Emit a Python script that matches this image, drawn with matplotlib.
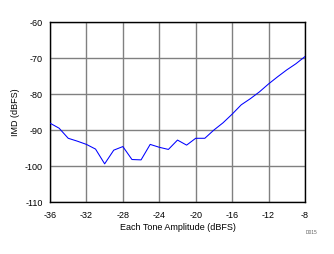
import numpy as np
import matplotlib
matplotlib.use("Agg")
import matplotlib.pyplot as plt

plt.rcParams['font.family'] = ['Liberation Sans', 'DejaVu Sans']
plt.rcParams['axes.unicode_minus'] = False

# Each tone amplitude (dBFS) and measured IMD (dBFS)
tone_amp = list(range(-36, -7))
imd = [-88.1, -89.5, -92.3, -93.1, -94.0, -95.3, -99.4, -95.6, -94.6, -98.2,
       -98.3, -94.0, -94.8, -95.4, -92.8, -94.2, -92.3, -92.3, -90.0, -88.0,
       -85.6, -83.0, -81.3, -79.4, -77.2, -75.2, -73.3, -71.6, -69.6]

x_ticks = [-36, -32, -28, -24, -20, -16, -12, -8]
y_ticks = [-110, -100, -90, -80, -70, -60]

fig = plt.figure(figsize=(3.34, 2.54), dpi=100)
ax = fig.add_axes([50/334, 1 - 202/254, 255/334, 180/254])

ax.plot(tone_amp, imd, color='#0000ff', linewidth=0.75, zorder=3)

ax.set_xlim(-36, -8)
ax.set_ylim(-110, -60)
ax.set_xticks(x_ticks)
ax.set_yticks(y_ticks)
ax.grid(True, color='#808080', linewidth=1.0)
ax.set_axisbelow(True)
ax.tick_params(length=0, labelsize=6.5, pad=5)
ax.tick_params(axis='x', pad=6.5)
for s in ax.spines.values():
    s.set_linewidth(1.0)
    s.set_color('black')

ax.set_xlabel("Each Tone Amplitude (dBFS)", fontsize=6.5, labelpad=2)
ax.set_ylabel("IMD (dBFS)", fontsize=6.5)
ax.yaxis.set_label_coords(-30/255, 0.5)

fig.text(312/334, 1 - 233/254, "D015", fontsize=3.5, color='#606060',
         ha='center', va='center')

fig.savefig("out.png", dpi=100)
